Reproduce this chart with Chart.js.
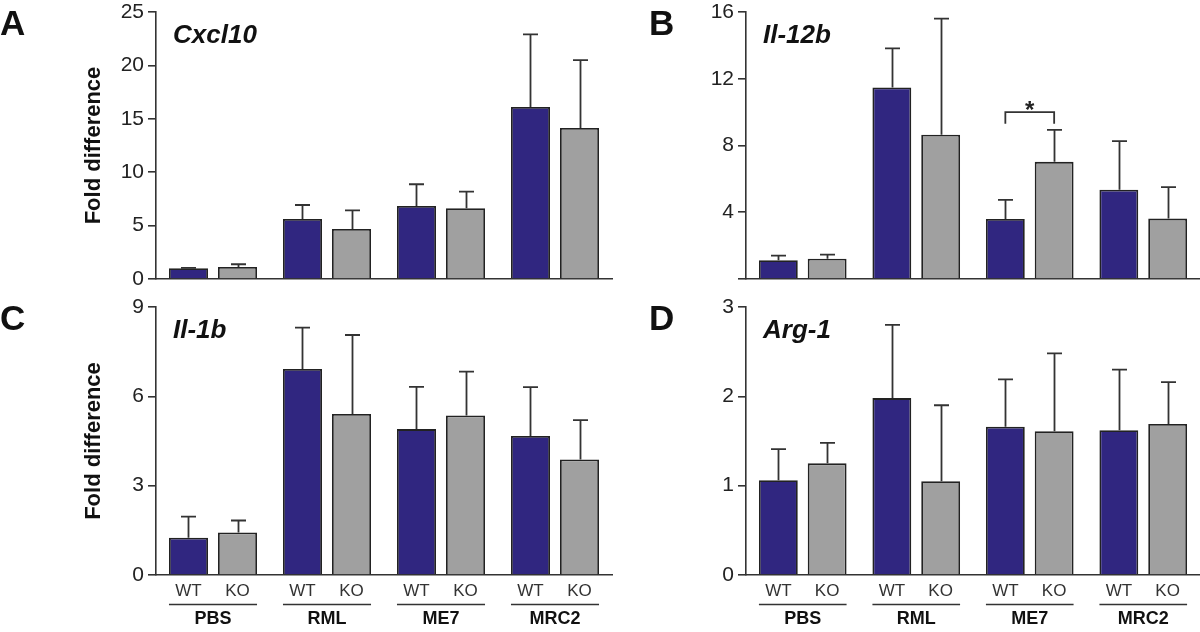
<!DOCTYPE html>
<html>
<head>
<meta charset="utf-8">
<script src="https://cdn.jsdelivr.net/npm/chart.js@4/dist/chart.umd.min.js"></script>
<style>
  html, body { margin: 0; padding: 0; background: #ffffff; }
  #wrap { position: relative; width: 1200px; height: 632px; overflow: hidden; }
  #wrap canvas { position: absolute; left: 0; top: 0; }
</style>
</head>
<body>
<div id="wrap">
  <canvas id="cA" width="1200" height="632"></canvas>
  <canvas id="cB" width="1200" height="632"></canvas>
  <canvas id="cC" width="1200" height="632"></canvas>
  <canvas id="cD" width="1200" height="632"></canvas>
</div>
<script>
// ---------------- DATA ----------------
const categories = ['PBS', 'RML', 'ME7', 'MRC2'];
const seriesNames = ['WT', 'KO'];

// A: Cxcl10
const cxcl10WT    = [1.00, 5.62, 6.83, 16.10];
const cxcl10WTErr = [0.05, 1.31, 2.04, 6.80];
const cxcl10KO    = [1.12, 4.68, 6.62, 14.14];
const cxcl10KOErr = [0.26, 1.75, 1.56, 6.36];
const cxcl10Ticks = [0, 5, 10, 15, 20, 25];
const cxcl10TickLabels = ['0', '5', '10', '15', '20', '25'];

// B: Il-12b
const il12bWT    = [1.12, 11.48, 3.60, 5.35];
const il12bWTErr = [0.28, 2.34, 1.14, 2.91];
const il12bKO    = [1.22, 8.64, 7.02, 3.62];
const il12bKOErr = [0.24, 6.96, 1.92, 1.88];
const il12bTicks = [0, 4, 8, 12, 16];
const il12bTickLabels = ['', '4', '8', '12', '16'];
// significance bracket (ME7 WT vs KO)
const il12bSigGroup = 'ME7';
const il12bSigTop = 10.0;
const il12bSigLegBottom = 9.3;
const il12bSigLabel = '*';

// C: Il-1b
const il1bWT    = [1.25, 6.92, 4.90, 4.67];
const il1bWTErr = [0.71, 1.39, 1.42, 1.64];
const il1bKO    = [1.43, 5.41, 5.36, 3.88];
const il1bKOErr = [0.40, 2.65, 1.47, 1.32];
const il1bTicks = [0, 3, 6, 9];
const il1bTickLabels = ['0', '3', '6', '9'];

// D: Arg-1
const arg1WT    = [1.06, 1.98, 1.66, 1.62];
const arg1WTErr = [0.35, 0.82, 0.53, 0.68];
const arg1KO    = [1.25, 1.05, 1.61, 1.69];
const arg1KOErr = [0.23, 0.85, 0.87, 0.47];
const arg1Ticks = [0, 1, 2, 3];
const arg1TickLabels = ['0', '1', '2', '3'];

// ---------------- STYLE ----------------
const FONT = "'Liberation Sans', Arial, Helvetica, sans-serif";
const NAVY = '#302680';
const GREY = '#a0a0a0';
const EDGE = '#222222';
const AXIS = '#333333';
const TEXT = '#222222';

const decorPlugin = {
  id: 'decor',
  afterDatasetsDraw(chart, args, opts) {
    const ctx = chart.ctx;
    const area = chart.chartArea;
    const y = chart.scales.y;
    const x = chart.scales.x;
    ctx.save();
    // error bars
    ctx.strokeStyle = AXIS;
    ctx.lineWidth = 1.8;
    chart.data.datasets.forEach((ds, di) => {
      const meta = chart.getDatasetMeta(di);
      meta.data.forEach((bar, i) => {
        const top = y.getPixelForValue(ds.data[i] + ds.errors[i]);
        const bx = Math.round(bar.x) + 0.5;
        ctx.beginPath();
        ctx.moveTo(bx, bar.y);
        ctx.lineTo(bx, top);
        ctx.moveTo(bx - 7.5, top);
        ctx.lineTo(bx + 7.5, top);
        ctx.stroke();
      });
    });
    // significance bracket
    if (opts.sig) {
      const gi = categories.indexOf(opts.sig.group);
      const b0 = chart.getDatasetMeta(0).data[gi];
      const b1 = chart.getDatasetMeta(1).data[gi];
      const yt = y.getPixelForValue(opts.sig.top);
      const yb = y.getPixelForValue(opts.sig.leg);
      ctx.beginPath();
      ctx.moveTo(b0.x, yb);
      ctx.lineTo(b0.x, yt);
      ctx.lineTo(b1.x, yt);
      ctx.lineTo(b1.x, yb);
      ctx.stroke();
      ctx.fillStyle = TEXT;
      ctx.font = 'bold 24px ' + FONT;
      ctx.textAlign = 'center';
      ctx.textBaseline = 'alphabetic';
      ctx.fillText(opts.sig.label, (b0.x + b1.x) / 2, yt + 6);
    }
    // panel letter
    ctx.fillStyle = '#111';
    ctx.textAlign = 'left';
    ctx.textBaseline = 'alphabetic';
    ctx.font = 'bold 35px ' + FONT;
    ctx.fillText(opts.letter, opts.letterX, area.top + 23);
    // gene title
    ctx.font = 'italic bold 26px ' + FONT;
    ctx.fillText(opts.title, area.left + 17, area.top + 31);
    // y title
    if (opts.yTitle) {
      ctx.save();
      ctx.translate(area.left - 62, (area.top + area.bottom) / 2);
      ctx.rotate(-Math.PI / 2);
      ctx.textAlign = 'center';
      ctx.textBaseline = 'middle';
      ctx.font = 'bold 22px ' + FONT;
      ctx.fillStyle = '#111';
      ctx.fillText(opts.yTitle, 0, 0);
      ctx.restore();
    }
    // bottom labels
    if (opts.bottom) {
      const m0 = chart.getDatasetMeta(0).data;
      const m1 = chart.getDatasetMeta(1).data;
      ctx.fillStyle = '#333';
      ctx.font = '17px ' + FONT;
      ctx.textAlign = 'center';
      ctx.textBaseline = 'middle';
      ctx.lineWidth = 1.6;
      categories.forEach((c, i) => {
        ctx.fillText(seriesNames[0], m0[i].x, area.bottom + 16);
        ctx.fillText(seriesNames[1], m1[i].x, area.bottom + 16);
        const l = m0[i].x - m0[i].width / 2;
        const r = m1[i].x + m1[i].width / 2;
        ctx.beginPath();
        ctx.moveTo(l, area.bottom + 29.5);
        ctx.lineTo(r, area.bottom + 29.5);
        ctx.stroke();
      });
      ctx.fillStyle = '#111';
      ctx.font = 'bold 18px ' + FONT;
      categories.forEach((c, i) => {
        ctx.fillText(c, x.getPixelForValue(i), area.bottom + 44);
      });
    }
    ctx.restore();
  }
};

function makePanel(id, cfg) {
  const a = cfg.area;
  const yw = 60;
  return new Chart(document.getElementById(id), {
    type: 'bar',
    data: {
      labels: categories,
      datasets: [
        { label: seriesNames[0], data: cfg.wt, errors: cfg.wtErr, backgroundColor: NAVY,
          borderColor: EDGE, borderWidth: 1.8, categoryPercentage: 0.86, barPercentage: 0.796 },
        { label: seriesNames[1], data: cfg.ko, errors: cfg.koErr, backgroundColor: GREY,
          borderColor: EDGE, borderWidth: 1.8, categoryPercentage: 0.86, barPercentage: 0.796 }
      ]
    },
    options: {
      responsive: false,
      animation: false,
      devicePixelRatio: 1,
      layout: { padding: { left: a.left - yw, right: 1200 - a.right, top: a.top, bottom: 632 - a.bottom - 4 } },
      plugins: {
        legend: { display: false },
        tooltip: { enabled: false },
        decor: cfg.decor
      },
      scales: {
        x: {
          offset: true,
          grid: { display: false },
          border: { display: true, color: AXIS, width: 1.6 },
          ticks: { display: false },
          afterFit: s => { s.height = 4; s.paddingLeft = 0; s.paddingRight = 0; }
        },
        y: {
          min: cfg.ticks[0],
          max: cfg.ticks[cfg.ticks.length - 1],
          afterBuildTicks: s => { s.ticks = cfg.ticks.map(v => ({ value: v })); },
          afterFit: s => { s.width = yw; s.paddingTop = 0; s.paddingBottom = 0; },
          ticks: {
            font: { family: FONT, size: 21 },
            color: TEXT,
            padding: 4,
            callback: (v, i) => cfg.tickLabels[i]
          },
          grid: { display: true, drawOnChartArea: false, drawTicks: true, tickLength: 8, color: AXIS, lineWidth: 1.6 },
          border: { display: true, color: AXIS, width: 1.6 }
        }
      }
    },
    plugins: [decorPlugin]
  });
}

makePanel('cA', {
  area: { left: 156, right: 612, top: 12, bottom: 279 },
  wt: cxcl10WT, wtErr: cxcl10WTErr, ko: cxcl10KO, koErr: cxcl10KOErr,
  ticks: cxcl10Ticks, tickLabels: cxcl10TickLabels,
  decor: { letter: 'A', letterX: 0, title: 'Cxcl10', yTitle: 'Fold difference', bottom: false }
});
makePanel('cB', {
  area: { left: 746, right: 1200, top: 12, bottom: 279 },
  wt: il12bWT, wtErr: il12bWTErr, ko: il12bKO, koErr: il12bKOErr,
  ticks: il12bTicks, tickLabels: il12bTickLabels,
  decor: { letter: 'B', letterX: 649, title: 'Il-12b', bottom: false,
           sig: { group: il12bSigGroup, top: il12bSigTop, leg: il12bSigLegBottom, label: il12bSigLabel } }
});
makePanel('cC', {
  area: { left: 156, right: 612, top: 307, bottom: 575 },
  wt: il1bWT, wtErr: il1bWTErr, ko: il1bKO, koErr: il1bKOErr,
  ticks: il1bTicks, tickLabels: il1bTickLabels,
  decor: { letter: 'C', letterX: 0, title: 'Il-1b', yTitle: 'Fold difference', bottom: true }
});
makePanel('cD', {
  area: { left: 746, right: 1200, top: 307, bottom: 575 },
  wt: arg1WT, wtErr: arg1WTErr, ko: arg1KO, koErr: arg1KOErr,
  ticks: arg1Ticks, tickLabels: arg1TickLabels,
  decor: { letter: 'D', letterX: 649, title: 'Arg-1', bottom: true }
});
</script>
</body>
</html>
